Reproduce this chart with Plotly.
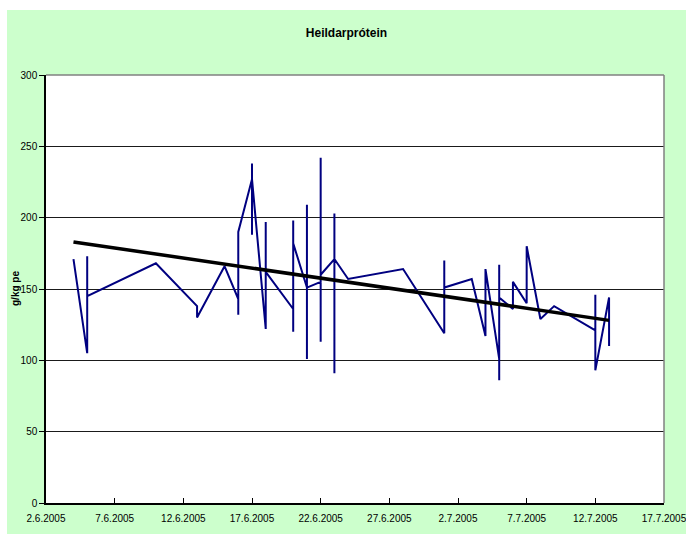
import plotly.graph_objects as go

# ---- data ----
dates = (
    ["2005-06-04"]
    + ["2005-06-05"] * 3
    + ["2005-06-10"]
    + ["2005-06-13"] * 2
    + ["2005-06-15"]
    + ["2005-06-16"] * 3
    + ["2005-06-17"] * 4
    + ["2005-06-18"] * 3
    + ["2005-06-20"] * 4
    + ["2005-06-21"] * 4
    + ["2005-06-22"] * 5
    + ["2005-06-23"] * 4
    + ["2005-06-24"]
    + ["2005-06-28"]
    + ["2005-07-01"] * 3
    + ["2005-07-03"]
    + ["2005-07-04"] * 2
    + ["2005-07-05"] * 4
    + ["2005-07-06"] * 2
    + ["2005-07-07"] * 2
    + ["2005-07-08"]
    + ["2005-07-09"]
    + ["2005-07-12"] * 3
    + ["2005-07-13"] * 2
)
protein = [
    171,
    105, 173, 145,
    168,
    138, 130,
    166,
    143, 132, 190,
    227, 238, 188, 227,
    122, 197, 162,
    136, 120, 198, 182,
    151, 209, 101, 151,
    155, 242, 113, 211, 160,
    171, 203, 91, 171,
    157,
    164,
    119, 170, 151,
    157,
    117, 164,
    101, 86, 167, 144,
    136, 155,
    140, 180,
    129,
    138,
    121, 146, 93,
    144, 110,
]
trend_dates = ["2005-06-04", "2005-07-13"]
trend_values = [183, 128]

title_text = "Heildarprótein"
y_title = "g/kg pe"
x_range = ["2005-06-02", "2005-07-17"]
x_tickvals = ["2005-06-02", "2005-06-07", "2005-06-12", "2005-06-17", "2005-06-22",
              "2005-06-27", "2005-07-02", "2005-07-07", "2005-07-12", "2005-07-17"]
x_ticktext = ["2.6.2005", "7.6.2005", "12.6.2005", "17.6.2005", "22.6.2005",
              "27.6.2005", "2.7.2005", "7.7.2005", "12.7.2005", "17.7.2005"]
y_ticks = [0, 50, 100, 150, 200, 250, 300]

FONT = "Liberation Sans, Arial, sans-serif"
GREEN = "#CCFFCC"

fig = go.Figure()
fig.add_trace(go.Scatter(
    x=dates, y=protein, mode="lines",
    line=dict(color="#000080", width=2),
    showlegend=False, hoverinfo="x+y",
))
fig.add_trace(go.Scatter(
    x=trend_dates, y=trend_values, mode="lines",
    line=dict(color="#000000", width=3.5),
    showlegend=False, hoverinfo="skip",
))

W, H = 686, 534
L, R, T, B = 46, 22, 75, 31
PW, PH = W - L - R, H - T - B

fig.update_layout(
    width=W, height=H,
    autosize=False,
    margin=dict(l=L, r=R, t=T, b=B, pad=0, autoexpand=False),
    paper_bgcolor=GREEN,
    plot_bgcolor="#FFFFFF",
    font=dict(family=FONT, size=10, color="#000000"),
    title=dict(
        text="<b>" + title_text + "</b>",
        font=dict(family=FONT, size=12, color="#000000"),
        x=346.5 / W, xref="container", xanchor="center",
        y=1 - 33 / H, yref="container", yanchor="middle",
    ),
    xaxis=dict(
        type="date",
        range=x_range,
        tickvals=x_tickvals,
        ticktext=x_ticktext,
        ticks="inside", ticklen=5, tickcolor="#000000",
        ticklabelstandoff=5,
        ticklabeloverflow="allow",
        automargin=False,
        showgrid=False, zeroline=False,
        showline=True, linecolor="#000000", linewidth=1.5,
        tickfont=dict(family=FONT, size=10, color="#000000"),
        fixedrange=True,
    ),
    yaxis=dict(
        range=[0, 300],
        tickvals=y_ticks,
        ticks="outside", ticklen=5, tickcolor="#000000",
        automargin=False,
        showgrid=True, gridcolor="#1a1a1a", gridwidth=1,
        zeroline=False,
        showline=True, linecolor="#000000", linewidth=1.5,
        tickfont=dict(family=FONT, size=10, color="#000000"),
        fixedrange=True,
    ),
    shapes=[
        # white strips outside the green chart panel (top and left)
        dict(type="rect", xref="paper", yref="paper",
             x0=-L / PW, x1=(W - L) / PW,
             y0=1 + (T - 10) / PH, y1=1 + T / PH,
             fillcolor="#FFFFFF", line=dict(width=0), layer="above"),
        dict(type="rect", xref="paper", yref="paper",
             x0=-L / PW, x1=-(L - 7) / PW,
             y0=-B / PH, y1=1 + T / PH,
             fillcolor="#FFFFFF", line=dict(width=0), layer="above"),
        # plot-area frame (right and top)
        dict(type="line", xref="paper", yref="paper",
             x0=1, x1=1, y0=0, y1=1,
             line=dict(color="#808080", width=1.5)),
        dict(type="line", xref="paper", yref="paper",
             x0=0, x1=1, y0=1, y1=1,
             line=dict(color="#808080", width=1.5)),
    ],
    annotations=[
        dict(text="<b>" + y_title + "</b>", textangle=-90,
             xref="paper", yref="paper",
             x=(15 - L) / PW, y=0.5,
             xanchor="center", yanchor="middle", showarrow=False,
             font=dict(family=FONT, size=10, color="#000000")),
    ],
)

fig.write_html(
    "out.html",
    config={"responsive": False, "displayModeBar": False},
    post_script="document.body.style.margin='0';"
                "document.documentElement.style.overflow='hidden';"
                "document.body.style.overflow='hidden';",
)
